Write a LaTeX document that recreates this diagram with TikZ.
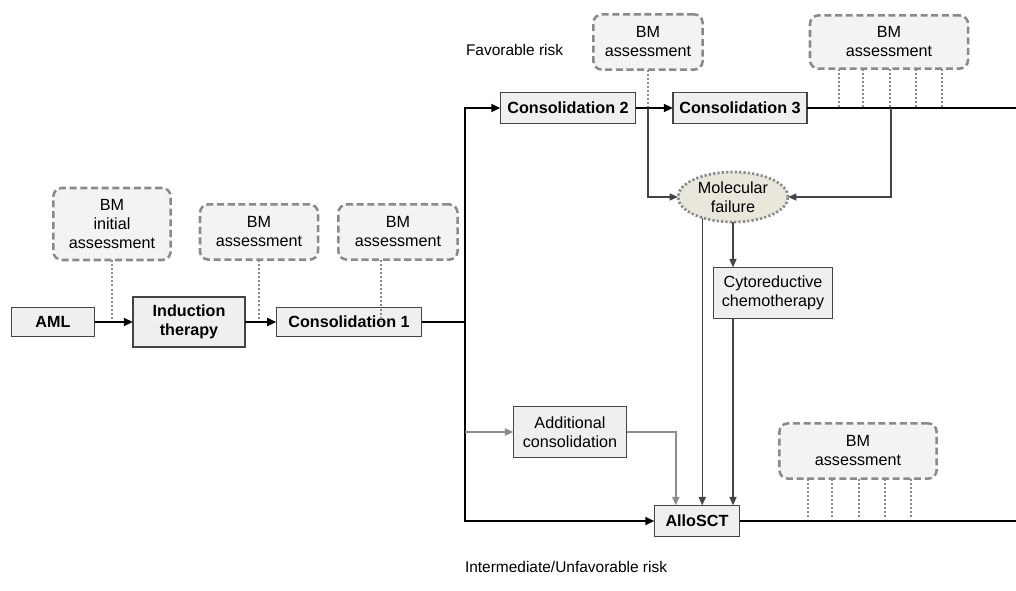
\documentclass[tikz,border=0pt]{standalone}
\usepackage{fontspec}
\setmainfont{Liberation Sans}
\usetikzlibrary{arrows.meta, shapes.geometric}
\definecolor{boxfill}{HTML}{EFEFEF}
\definecolor{boxline}{HTML}{444444}
\definecolor{bmline}{HTML}{8A8A8A}
\definecolor{bmfill}{HTML}{F3F3F3}
\definecolor{failfill}{HTML}{E9E7DC}
\definecolor{extraline}{HTML}{8C8C8C}

\begin{document}
\begin{tikzpicture}[x=0.025cm, y=-0.025cm,
  every node/.style={font=\fontsize{11.5}{13.5}\selectfont, align=center, inner sep=0pt, outer sep=0pt},
  stepbox/.style={draw=boxline, fill=boxfill, line width=1pt},
  bmbox/.style={draw=bmline, fill=bmfill, dash pattern=on 5pt off 2.6pt, line width=1.8pt, rounded corners=6pt, minimum height=1.38cm},
  risk/.style={anchor=west, font=\fontsize{11}{13}\selectfont},
  probe/.style={draw=bmline, line width=1.4pt, dash pattern=on 1.4pt off 1.5pt},
  mainarrow/.style={line width=1.7pt, -{Triangle[length=6.5pt, width=5.5pt]}},
  subarrow/.style={draw=boxline, line width=1pt, -{Triangle[length=6pt, width=5pt]}},
  extraarrow/.style={draw=extraline, line width=1.3pt, -{Triangle[length=6pt, width=5pt]}}]
  \useasboundingbox (0,0) rectangle (1016,590);

  \node (aml) [stepbox, minimum width=2.08cm, minimum height=0.73cm] at (53,322) {\textbf{AML}};
  \node (ind) [stepbox, minimum width=2.8cm, minimum height=1.25cm] at (189,322) {\textbf{Induction}\\\textbf{therapy}};
  \node (c1) [stepbox, minimum width=3.63cm, minimum height=0.73cm] at (349,322) {\textbf{Consolidation 1}};
  \node (c2) [stepbox, minimum width=3.38cm, minimum height=0.78cm] at (568,108) {\textbf{Consolidation 2}};
  \node (c3) [stepbox, minimum width=3.35cm, minimum height=0.78cm] at (740,108) {\textbf{Consolidation 3}};
  \node (fail) [ellipse, draw=bmline, fill=failfill, line width=1.9pt, dash pattern=on 1.6pt off 1.5pt, minimum width=2.75cm, minimum height=1.25cm] at (733,197) {Molecular\\failure};
  \node (cyto) [stepbox, minimum width=2.98cm, minimum height=1.28cm] at (773,293) {Cytoreductive\\chemotherapy};
  \node (add) [stepbox, minimum width=2.83cm, minimum height=1.28cm] at (570,432) {Additional\\consolidation};
  \node (sct) [stepbox, minimum width=2.13cm, minimum height=0.78cm] at (697,521) {\textbf{AlloSCT}};

  \node (bm1) [bmbox, minimum width=2.93cm, minimum height=1.8cm] at (112,224) {BM\\initial\\assessment};
  \node (bm2) [bmbox, minimum width=2.95cm] at (259,232) {BM\\assessment};
  \node (bm3) [bmbox, minimum width=2.98cm] at (398,232) {BM\\assessment};
  \node (bm4) [bmbox, minimum width=2.73cm] at (648,42) {BM\\assessment};
  \node (bm5) [bmbox, minimum width=3.95cm, minimum height=1.33cm] at (889,42) {BM\\assessment};
  \node (bm6) [bmbox, minimum width=3.93cm] at (858,451) {BM\\assessment};

  \node (fav) [risk] at (466,50) {Favorable risk};
  \node (unfav) [risk] at (465,567) {Intermediate/Unfavorable risk};

  \coordinate (split) at (465,322);
  \coordinate (tap2) at (648,108);
  \coordinate (tap3) at (891,108);
  \coordinate (endtop) at (1016,108);
  \coordinate (endlow) at (1016,521);

  \draw[probe] (bm1.south) -- (bm1.south |- aml.east);
  \draw[probe] (bm2.south) -- (bm2.south |- ind.east);
  \draw[probe] ([xshift=-0.43cm]bm3.south) -- ([xshift=-0.43cm]bm3.south |- c1.east);
  \draw[probe] (bm4.south) -- (bm4.south |- c2.east);
  \foreach \dx in {-50,-26,1,27,53} {
    \path ([xshift=\dx*0.025cm]bm5.south) coordinate (p);
    \draw[probe] (p) -- (p |- c3.east);
    \path ([xshift=\dx*0.025cm]bm6.south) coordinate (q);
    \draw[probe] (q) -- ([yshift=0.1cm]q |- sct.east);
  }

  \draw[mainarrow] (aml) -- (ind);
  \draw[mainarrow] (ind) -- (c1);
  \draw[line width=1.7pt] (c1) -- (split);
  \draw[mainarrow] (split) |- (c2);
  \draw[mainarrow] (split) |- (sct);
  \draw[mainarrow] (c2) -- (c3);
  \draw[line width=1.7pt] (c3) -- (endtop);
  \draw[line width=1.7pt] (sct) -- (endlow);

  \draw[subarrow] (tap2) |- (fail.west);
  \draw[subarrow] (tap3) |- (fail.east);
  \draw[subarrow] (fail.214) -- (fail.214 |- sct.north);
  \draw[subarrow] (fail.south) -- (fail.south |- cyto.north);
  \draw[subarrow] (fail.south |- cyto.south) -- (fail.south |- sct.north);

  \draw[extraarrow] (split |- add.west) -- (add.west);
  \draw[extraarrow] (add.east) -| ([xshift=-0.53cm]sct.north);
\end{tikzpicture}
\end{document}
